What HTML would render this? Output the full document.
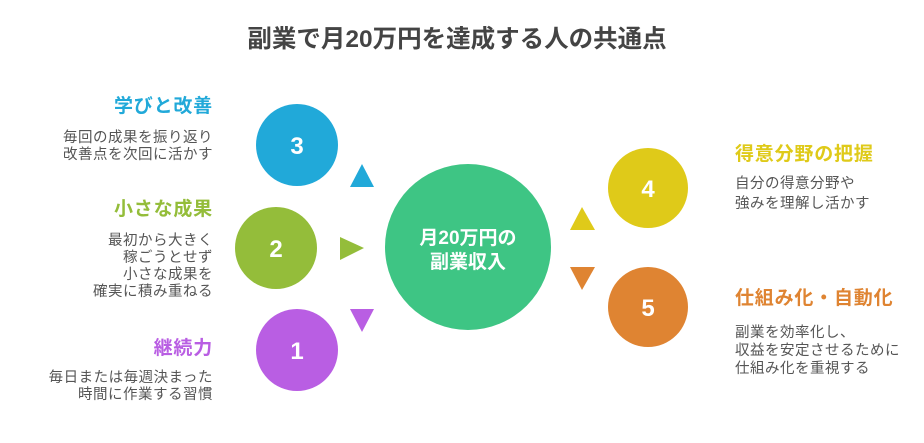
<!DOCTYPE html>
<html><head><meta charset="utf-8"><style>
html,body{margin:0;padding:0;background:#fff;}
svg{display:block;font-family:"Liberation Sans","Noto Sans CJK JP",sans-serif;}
.h{font-weight:bold;font-size:19px;letter-spacing:0.8px;}
.b{font-size:14.5px;fill:#555;letter-spacing:0.5px;}
.n{font-weight:bold;font-size:24px;fill:#fff;}
</style></head><body>
<svg width="924" height="443" viewBox="0 0 924 443" xmlns="http://www.w3.org/2000/svg">
<text x="457" y="47" text-anchor="middle" font-size="24.5" font-weight="bold" fill="#444">副業で月20万円を達成する人の共通点</text>

<circle cx="468" cy="247" r="83" fill="#3ec584"/>
<text x="468" y="244" text-anchor="middle" font-size="19" font-weight="bold" fill="#fff">月20万円の</text>
<text x="468" y="268" text-anchor="middle" font-size="19" font-weight="bold" fill="#fff">副業収入</text>

<circle cx="297" cy="145" r="41" fill="#21a9d9"/>
<text class="n" x="297" y="154" text-anchor="middle">3</text>
<circle cx="276" cy="248" r="41" fill="#94bd3a"/>
<text class="n" x="276" y="257" text-anchor="middle">2</text>
<circle cx="297" cy="350" r="41" fill="#b95ee3"/>
<text class="n" x="297" y="359" text-anchor="middle">1</text>
<circle cx="648" cy="188" r="40" fill="#dfca19"/>
<text class="n" x="648" y="197" text-anchor="middle">4</text>
<circle cx="648" cy="307" r="40" fill="#df8432"/>
<text class="n" x="648" y="316" text-anchor="middle">5</text>

<polygon points="350,187 374,187 362,164" fill="#21a9d9"/>
<polygon points="340,237 340,260 364,248" fill="#94bd3a"/>
<polygon points="350,309 374,309 362,332" fill="#b95ee3"/>
<polygon points="570,230 595,230 582,207" fill="#dfca19"/>
<polygon points="570,267 595,267 582,290" fill="#df8432"/>

<text class="h" x="213" y="112" text-anchor="end" fill="#21a9d9">学びと改善</text>
<text class="b" x="213" y="142" text-anchor="end">毎回の成果を振り返り</text>
<text class="b" x="213" y="159" text-anchor="end">改善点を次回に活かす</text>

<text class="h" x="213" y="215" text-anchor="end" fill="#94bd3a">小さな成果</text>
<text class="b" x="213" y="245" text-anchor="end">最初から大きく</text>
<text class="b" x="213" y="262" text-anchor="end">稼ごうとせず</text>
<text class="b" x="213" y="279" text-anchor="end">小さな成果を</text>
<text class="b" x="213" y="296" text-anchor="end">確実に積み重ねる</text>

<text class="h" x="213" y="354" text-anchor="end" fill="#b95ee3">継続力</text>
<text class="b" x="213" y="382" text-anchor="end">毎日または毎週決まった</text>
<text class="b" x="213" y="399" text-anchor="end">時間に作業する習慣</text>

<text class="h" x="735" y="160" fill="#dfca19">得意分野の把握</text>
<text class="b" x="735" y="188">自分の得意分野や</text>
<text class="b" x="735" y="208">強みを理解し活かす</text>

<text class="h" x="735" y="304" fill="#df8432">仕組み化・自動化</text>
<text class="b" x="735" y="337">副業を効率化し、</text>
<text class="b" x="735" y="355">収益を安定させるために</text>
<text class="b" x="735" y="373">仕組み化を重視する</text>
</svg>
</body></html>
